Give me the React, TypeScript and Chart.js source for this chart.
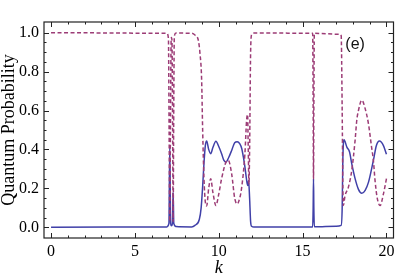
import React, { useEffect, useRef } from "react";
import { Chart, registerables } from "chart.js";

Chart.register(...registerables);

// Blue (solid) series
const kBlue = [
  0, 6.9, 7.03, 7.08, 7.13, 7.18, 7.24, 7.28, 7.32, 7.45,
  8.38, 8.58, 8.84, 8.95, 9.04, 9.12, 9.2, 9.28, 9.4, 9.52, 9.65, 9.83, 10.0, 10.17, 10.3, 10.43,
  10.6, 10.77, 10.95, 11.1, 11.25, 11.37, 11.47, 11.56, 11.65, 11.72, 11.78, 11.84, 11.9, 11.96, 12.1,
  15.6, 15.63, 15.65, 15.67, 15.7, 17.0, 17.3, 17.36, 17.4, 17.47, 17.64, 17.8, 17.93, 18.13, 18.33,
  18.53, 18.73, 18.93, 19.22, 19.4, 19.58, 19.82, 20,
];
const pBlue = [
  0, 0.002, 0.02, 0.42, 0.02, 0.008, 0.02, 0.18, 0.02, 0.004,
  0.002, 0.01, 0.04, 0.1, 0.21, 0.33, 0.42, 0.443, 0.4, 0.378, 0.41, 0.442, 0.415, 0.378, 0.345, 0.335,
  0.36, 0.395, 0.435, 0.44, 0.43, 0.405, 0.36, 0.31, 0.25, 0.215, 0.24, 0.15, 0.03, 0.005, 0.001,
  0.002, 0.1, 0.25, 0.1, 0.003, 0.006, 0.01, 0.1, 0.35, 0.45, 0.412, 0.387, 0.327, 0.25, 0.195,
  0.175, 0.19, 0.232, 0.344, 0.42, 0.443, 0.42, 0.375,
];

// Magenta (dashed) series
const kRed = [
  0, 6.9, 7.0, 7.04, 7.08, 7.12, 7.16, 7.18, 7.21, 7.25, 7.28, 7.31, 7.35, 7.45,
  8.38, 8.58, 8.78, 8.88, 8.98, 9.04, 9.12, 9.2, 9.28, 9.4, 9.52, 9.65, 9.83, 10.0, 10.17, 10.43,
  10.57, 10.77, 10.95, 11.1, 11.25, 11.37, 11.56, 11.66, 11.72, 11.76, 11.8, 11.84, 11.9, 11.96, 12.1,
  15.6, 15.63, 15.65, 15.67, 15.7, 17.2, 17.3, 17.36, 17.4, 17.43, 17.53, 17.73, 17.93, 18.13, 18.23,
  18.33, 18.53, 18.73, 18.93, 19.1, 19.22, 19.32, 19.45, 19.62, 19.82, 20,
];
const pRed = [
  1.0, 0.997, 0.97, 0.5, 0.03, 0.5, 0.96, 0.975, 0.96, 0.5, 0.03, 0.5, 0.98, 0.998,
  0.997, 0.988, 0.962, 0.894, 0.756, 0.5, 0.25, 0.13, 0.11, 0.2, 0.25, 0.18, 0.112, 0.17, 0.25, 0.335,
  0.344, 0.275, 0.15, 0.12, 0.15, 0.206, 0.378, 0.55, 0.58, 0.4, 0.22, 0.4, 0.9, 0.99, 0.998,
  0.997, 0.6, 0.25, 0.6, 0.997, 0.992, 0.985, 0.6, 0.2, 0.112, 0.163, 0.206, 0.292, 0.447, 0.55,
  0.6, 0.653, 0.61, 0.53, 0.42, 0.344, 0.24, 0.15, 0.112, 0.172, 0.25,
];

const xTickLabels = [0, 5, 10, 15, 20];
const yTickLabels = [0, 0.2, 0.4, 0.6, 0.8, 1.0];
const panelLabel = "(e)";

const BLUE = "#4040a8";
const RED = "#9c3c76";

const frameTicks = {
  id: "frameTicks",
  afterDraw(chart: any) {
    const { ctx, chartArea: a, scales } = chart;
    const xs = scales.x;
    const ys = scales.y;
    ctx.save();
    ctx.strokeStyle = "#222";
    ctx.lineWidth = 1.2;
    ctx.strokeRect(a.left, a.top, a.right - a.left, a.bottom - a.top);
    ctx.lineWidth = 1;
    ctx.beginPath();
    for (let v = 0; v <= 20.001; v += 1) {
      const major = Math.abs(v % 5) < 1e-6;
      const len = major ? 5 : 2.5;
      const px = Math.round(xs.getPixelForValue(v)) + 0.5;
      ctx.moveTo(px, a.bottom);
      ctx.lineTo(px, a.bottom - len);
      ctx.moveTo(px, a.top);
      ctx.lineTo(px, a.top + len);
    }
    for (let i = 0; i <= 20; i++) {
      const v = i * 0.05;
      const major = i % 4 === 0;
      const len = major ? 5 : 2.5;
      const py = Math.round(ys.getPixelForValue(v)) + 0.5;
      ctx.moveTo(a.left, py);
      ctx.lineTo(a.left + len, py);
      ctx.moveTo(a.right, py);
      ctx.lineTo(a.right - len, py);
    }
    ctx.stroke();
    ctx.fillStyle = "#111";
    ctx.font = "16px 'Liberation Sans', Arial, sans-serif";
    ctx.textAlign = "center";
    ctx.textBaseline = "middle";
    ctx.fillText(panelLabel, xs.getPixelForValue(18.13), ys.getPixelForValue(0.94));
    ctx.restore();
  },
};

export default function App() {
  const ref = useRef<HTMLCanvasElement>(null);
  useEffect(() => {
    if (!ref.current) return;
    const serif = "'Liberation Serif', 'Times New Roman', serif";
    const chart = new Chart(ref.current, {
      type: "line",
      data: {
        datasets: [
          {
            label: "P2",
            data: kRed.map((k, i) => ({ x: k, y: pRed[i] })),
            borderColor: RED,
            borderWidth: 1.5,
            borderDash: [4, 2.5],
            pointRadius: 0,
            cubicInterpolationMode: "monotone",
            order: 0,
          },
          {
            label: "P1",
            data: kBlue.map((k, i) => ({ x: k, y: pBlue[i] })),
            borderColor: BLUE,
            borderWidth: 1.5,
            pointRadius: 0,
            cubicInterpolationMode: "monotone",
            order: 1,
          },
        ],
      },
      options: {
        responsive: false,
        animation: false,
        events: [],
        layout: { padding: { top: 22, right: 21.5, left: 0, bottom: 0 } },
        plugins: { legend: { display: false }, tooltip: { enabled: false } },
        scales: {
          x: {
            type: "linear",
            min: -0.42,
            max: 20.42,
            grid: { display: false },
            border: { display: false },
            afterBuildTicks: (s: any) => {
              s.ticks = xTickLabels.map((v) => ({ value: v }));
            },
            afterFit: (s: any) => {
              s.height = 42;
            },
            ticks: {
              color: "#000",
              font: { family: serif, size: 16 },
              padding: -4,
              maxRotation: 0,
              callback: (v: any) => String(v),
            },
            title: {
              display: true,
              text: "k",
              color: "#000",
              font: { family: serif, size: 18, style: "italic" },
              padding: { top: 0, bottom: 1 },
            },
          },
          y: {
            type: "linear",
            min: -0.055,
            max: 1.055,
            grid: { display: false },
            border: { display: false },
            afterBuildTicks: (s: any) => {
              s.ticks = yTickLabels.map((v) => ({ value: v }));
            },
            afterFit: (s: any) => {
              s.width = 44;
            },
            ticks: {
              color: "#000",
              font: { family: serif, size: 16 },
              padding: -3,
              callback: (v: any) => Number(v).toFixed(1),
            },
            title: {
              display: true,
              text: "Quantum Probability",
              color: "#000",
              font: { family: serif, size: 18 },
              padding: { top: -2, bottom: 0 },
            },
          },
        },
      },
      plugins: [frameTicks],
    });
    return () => chart.destroy();
  }, []);
  return (
    <div style={{ position: "fixed", left: 0, top: 0, width: 415, height: 280, background: "#fff" }}>
      <canvas ref={ref} width={415} height={280} />
    </div>
  );
}
